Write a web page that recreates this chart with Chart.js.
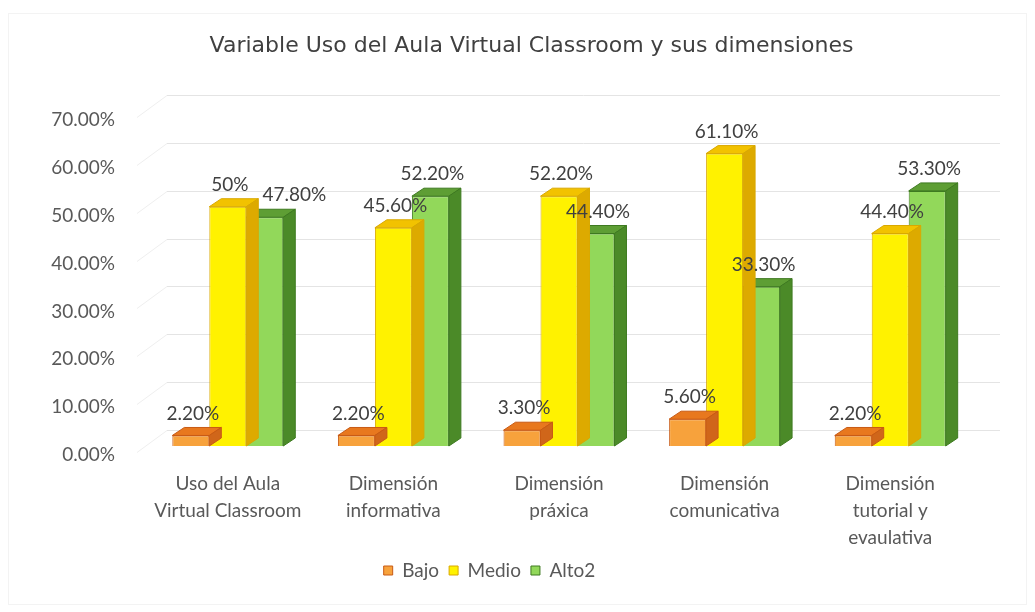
<!DOCTYPE html>
<html>
<head>
<meta charset="utf-8">
<script src="https://cdn.jsdelivr.net/npm/chart.js@4.4.0/dist/chart.umd.min.js"></script>
<style>
  html, body { margin: 0; padding: 0; background: #fff; }
  #wrap { width: 1035px; height: 612px; }
</style>
</head>
<body>
<div id="wrap"><canvas id="chart"></canvas></div>
<script>
// data
const categories = [
    ['Uso del Aula', 'Virtual Classroom'],
    ['Dimensión', 'informativa'],
    ['Dimensión', 'práxica'],
    ['Dimensión', 'comunicativa'],
    ['Dimensión', 'tutorial y', 'evaulativa']
];
const seriesNames = ['Bajo', 'Medio', 'Alto2'];
const bajo = [2.2, 2.2, 3.3, 5.6, 2.2];
const medio = [50, 45.6, 52.2, 61.1, 44.4];
const alto2 = [47.8, 52.2, 44.4, 33.3, 53.3];
const yMin = 0, yMax = 70, yStep = 10;

// faces of the fake 3D bars: front, top, side, edge
const faces = [
    { front: '#F7A23C', top: '#E8781E', side: '#D0661A', edge: '#C85A14' },
    { front: '#FFF200', top: '#F2C200', side: '#DDAA00', edge: '#D9A800' },
    { front: '#92D85A', top: '#5E9E34', side: '#4B8A28', edge: '#3E7A20' }
];
const DX = 12, DY = 8;      // bar depth
const WX = 22, WY = 16;     // back wall offset
const labelFont = 'Lato';

const fmt = v => Number.isInteger(v) ? v + '%' : v.toFixed(2) + '%';

const framePlugin = {
    id: 'frame',
    beforeDraw(chart) {
        const ctx = chart.ctx;
        ctx.save();
        ctx.fillStyle = '#fff';
        ctx.fillRect(0, 0, chart.width, chart.height);
        ctx.strokeStyle = '#f3f3f3';
        ctx.lineWidth = 1;
        ctx.strokeRect(8.5, 13.5, chart.width - 17, chart.height - 21);
        ctx.restore();
    },
    afterLayout(chart) {
        // Excel centres title and legend on the whole frame, not the plot
        chart.titleBlock.left += 45;
        chart.titleBlock.right += 45;
        chart.legend.left += 3;
        chart.legend.right += 3;
    }
};

const wallPlugin = {
    id: 'wall',
    beforeDatasetsDraw(chart) {
        const ctx = chart.ctx;
        const y = chart.scales.y;
        const area = chart.chartArea;
        ctx.save();
        ctx.lineWidth = 1;
        for (let v = yMin; v <= yMax; v += yStep) {
            const py = Math.round(y.getPixelForValue(v)) + 0.5;
            ctx.strokeStyle = '#e4e4e4';
            ctx.beginPath();
            ctx.moveTo(area.left + WX, py - WY);
            ctx.lineTo(area.right + WX + 5, py - WY);
            ctx.stroke();
            ctx.strokeStyle = '#efefef';
            ctx.beginPath();
            ctx.moveTo(area.left - 8, py + 6);
            ctx.lineTo(area.left + WX, py - WY);
            ctx.stroke();
        }
        ctx.restore();
    },
    beforeDatasetDraw(chart, args) {
        const ctx = chart.ctx;
        const f = faces[args.index];
        ctx.save();
        ctx.lineWidth = 1;
        ctx.strokeStyle = f.edge;
        args.meta.data.forEach(bar => {
            const { x, y, base, width } = bar.getProps(['x', 'y', 'base', 'width'], true);
            const l = x - width / 2, r = x + width / 2;
            ctx.fillStyle = f.top;
            ctx.beginPath();
            ctx.moveTo(l, y);
            ctx.lineTo(l + DX, y - DY);
            ctx.lineTo(r + DX, y - DY);
            ctx.lineTo(r, y);
            ctx.closePath();
            ctx.fill();
            ctx.stroke();
            ctx.fillStyle = f.side;
            ctx.beginPath();
            ctx.moveTo(r, y);
            ctx.lineTo(r + DX, y - DY);
            ctx.lineTo(r + DX, base - DY);
            ctx.lineTo(r, base);
            ctx.closePath();
            ctx.fill();
            ctx.stroke();
        });
        ctx.restore();
    }
};

// value labels above the bars; a label that would collide with the
// one to its left in the same group gets pushed to the right
const labelPlugin = {
    id: 'valueLabels',
    afterDatasetsDraw(chart) {
        const ctx = chart.ctx;
        ctx.save();
        ctx.font = '19px ' + labelFont;
        ctx.fillStyle = '#404040';
        ctx.textAlign = 'center';
        ctx.textBaseline = 'middle';
        const n = chart.data.labels.length;
        for (let j = 0; j < n; j++) {
            let prev = null;
            chart.data.datasets.forEach((ds, i) => {
                const bar = chart.getDatasetMeta(i).data[j];
                const text = fmt(ds.data[j]);
                const w = ctx.measureText(text).width;
                let cx = bar.x + 2;
                const cy = bar.y - 22;
                if (prev && Math.abs(prev.cy - cy) < 14 && cx - w / 2 < prev.right + 12) {
                    cx = prev.right + 14 + w / 2;
                }
                ctx.fillText(text, cx, cy);
                prev = { cy, right: cx + w / 2 };
            });
        }
        ctx.restore();
    }
};

const seriesData = [bajo, medio, alto2];

new Chart(document.getElementById('chart'), {
    type: 'bar',
    data: {
        labels: categories,
        datasets: seriesNames.map((name, i) => ({
            label: name,
            data: seriesData[i],
            backgroundColor: faces[i].front,
            borderColor: faces[i].edge,
            borderWidth: 1,
            categoryPercentage: 0.67,
            barPercentage: 1.0
        }))
    },
    options: {
        responsive: true,
        maintainAspectRatio: false,
        animation: false,
        layout: { padding: { left: 0, right: 62, top: 0, bottom: 22 } },
        plugins: {
            title: {
                display: true,
                text: 'Variable Uso del Aula Virtual Classroom y sus dimensiones',
                color: '#404040',
                font: { family: 'DejaVu Sans', size: 22, weight: 'normal', lineHeight: 1.2 },
                padding: { top: 33, bottom: 51.6 }
            },
            legend: {
                position: 'bottom',
                labels: {
                    boxWidth: 9,
                    boxHeight: 9,
                    padding: 10,
                    color: '#595959',
                    font: { family: labelFont, size: 19 }
                }
            },
            tooltip: { enabled: false }
        },
        scales: {
            x: {
                grid: { display: false },
                border: { display: false },
                ticks: {
                    color: '#595959',
                    padding: 16,
                    font: { family: labelFont, size: 19, lineHeight: 27 / 19 }
                },
                afterFit(scale) { scale.height = 105; }
            },
            y: {
                min: yMin,
                max: yMax,
                grid: { display: false, drawTicks: false },
                border: { display: false },
                ticks: {
                    stepSize: yStep,
                    padding: 30,
                    labelOffset: 9,
                    color: '#595959',
                    font: { family: labelFont, size: 19 },
                    callback: v => v.toFixed(2) + '%'
                },
                afterFit(scale) { scale.width = 145; }
            }
        }
    },
    plugins: [framePlugin, wallPlugin, labelPlugin]
});
</script>
</body>
</html>
